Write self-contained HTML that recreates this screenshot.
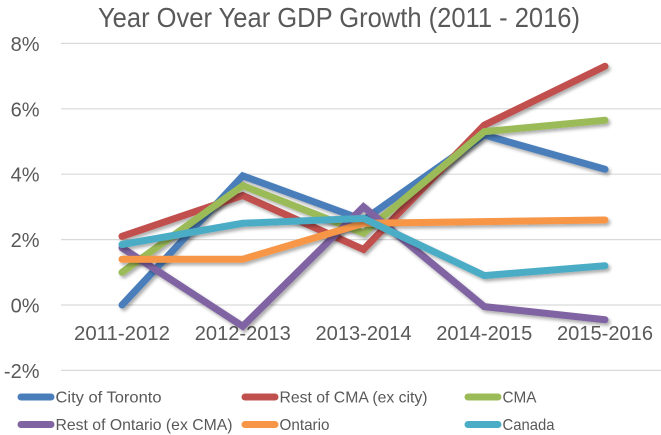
<!DOCTYPE html>
<html>
<head>
<meta charset="utf-8">
<title>Year Over Year GDP Growth (2011 - 2016)</title>
<style>
html,body{margin:0;padding:0;background:#fff;width:661px;height:435px;overflow:hidden}
svg{display:block;font-family:"Liberation Sans",sans-serif}
</style>
</head>
<body>
<svg id="chart" width="661" height="435" viewBox="0 0 661 435" xmlns="http://www.w3.org/2000/svg">
<defs>
<filter id="shadow" x="-10%" y="-20%" width="120%" height="140%">
<feDropShadow dx="2" dy="2.5" stdDeviation="1.6" flood-color="#000" flood-opacity="0.32"/>
</filter>
</defs>
<rect width="661" height="435" fill="#fff"/>
<text x="98" y="27" font-size="28" fill="#595959" textLength="482" lengthAdjust="spacingAndGlyphs">Year Over Year GDP Growth (2011 - 2016)</text>
<g id="grid"></g>
<g id="yaxis"></g>
<g id="xaxis"></g>
<g id="series"></g>
<g id="legend"></g>
</svg>
<script>
const categories = ["2011-2012", "2012-2013", "2013-2014", "2014-2015", "2015-2016"];
const yTicks = [8, 6, 4, 2, 0, -2];
const cityOfToronto = [0.0, 3.95, 2.6, 5.2, 4.15];
const restOfCma = [2.1, 3.35, 1.7, 5.5, 7.3];
const cma = [1.0, 3.65, 2.2, 5.3, 5.65];
const restOfOntario = [1.75, -0.65, 3.0, -0.05, -0.45];
const ontario = [1.4, 1.4, 2.5, 2.55, 2.6];
const canada = [1.85, 2.5, 2.65, 0.9, 1.2];
const seriesNames = ["City of Toronto", "Rest of CMA (ex city)", "CMA", "Rest of Ontario (ex CMA)", "Ontario", "Canada"];
const seriesValues = [cityOfToronto, restOfCma, cma, restOfOntario, ontario, canada];
const seriesColors = ["#4a7ebb", "#c0504d", "#9bbb59", "#8064a2", "#f79646", "#4bacc6"];

const NS = "http://www.w3.org/2000/svg";
function yScale(v) { return 305 - v * 32.7; }
function xScale(i) { return 122 + i * 120.75; }
function make(tag, attrs, parent, text) {
  const el = document.createElementNS(NS, tag);
  for (const k in attrs) el.setAttribute(k, attrs[k]);
  if (text !== undefined) el.textContent = text;
  parent.appendChild(el);
  return el;
}
function slug(s) { return s.toLowerCase().replace(/[^a-z0-9]+/g, '-').replace(/-+$/, ''); }

const grid = document.getElementById('grid');
const yaxis = document.getElementById('yaxis');
const xaxis = document.getElementById('xaxis');
const seriesGroup = document.getElementById('series');
const legend = document.getElementById('legend');

yTicks.forEach(function (t) {
  const line = make('line', {x1: 61, x2: 661, y1: yScale(t), y2: yScale(t), stroke: '#d9d9d9', 'stroke-width': 1.2}, grid);
  
  
  const label = make('text', {x: 39.5, y: yScale(t) + 7.5, 'text-anchor': 'end', 'font-size': 20, fill: '#595959'}, yaxis, t + '%');
  
  
});

categories.forEach(function (c, i) {
  const label = make('text', {x: xScale(i), y: 340, 'text-anchor': 'middle', 'font-size': 20, fill: '#595959', textLength: 96, lengthAdjust: 'spacingAndGlyphs'}, xaxis, c);
  
  
});

seriesValues.forEach(function (vals, s) {
  const pts = vals.map(function (v, i) { return xScale(i) + ',' + yScale(v); }).join(' ');
  const line = make('polyline', {points: pts, fill: 'none', stroke: seriesColors[s], 'stroke-width': 7, 'stroke-linecap': 'round', 'stroke-linejoin': 'miter', filter: 'url(#shadow)'}, seriesGroup);
  
  
});

const legendColumns = [21, 245, 468];
const legendRows = [397, 424.5];
const legendWidths = [106, 148, 34, 177, 50, 52];
seriesNames.forEach(function (name, s) {
  const col = legendColumns[s % 3];
  const row = legendRows[Math.floor(s / 3)];
  const swatch = make('line', {x1: col, x2: col + 30, y1: row, y2: row, stroke: seriesColors[s], 'stroke-width': 7, 'stroke-linecap': 'round'}, legend);
  
  
  const label = make('text', {x: col + 34.5, y: row + 5.5, 'font-size': 16, fill: '#595959', textLength: legendWidths[s], lengthAdjust: 'spacingAndGlyphs'}, legend, name);
  
  
});
</script>
</body>
</html>
